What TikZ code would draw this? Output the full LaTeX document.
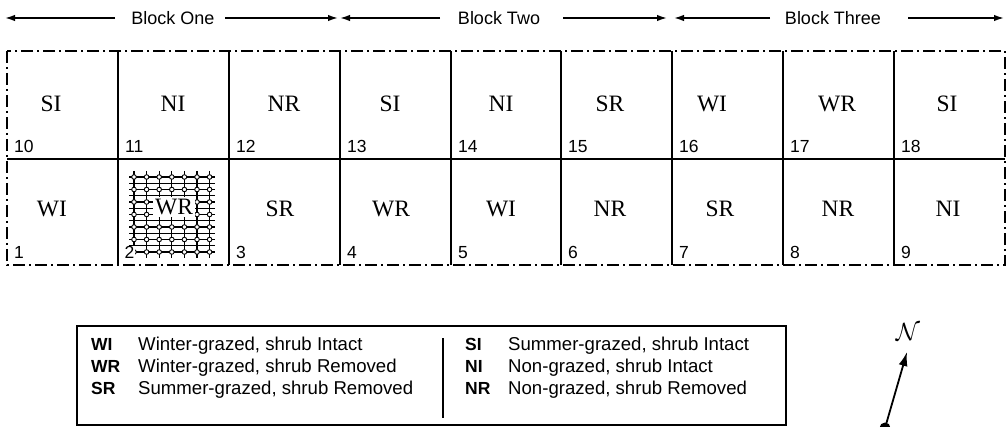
\documentclass[tikz,border=0pt]{standalone}
\usepackage{fontspec}
\setmainfont{Liberation Sans}
\newfontfamily\seriffont{Liberation Serif}
\usetikzlibrary{arrows.meta}

\begin{document}
\begin{tikzpicture}[x=1pt,y=-1pt,
  plotline/.style={line width=1.8pt},
  boundary/.style={line width=1.8pt, dash pattern=on 12pt off 4pt on 2pt off 4pt},
  treat/.style={font=\seriffont\fontsize{23.5}{26}\selectfont, inner sep=0pt},
  plotno/.style={font=\fontsize{17.5}{20}\selectfont, anchor=base west, inner sep=0pt},
  blocklbl/.style={font=\fontsize{18}{21}\selectfont, inner sep=0pt},
  span/.style={line width=1.6pt, -{Latex[length=10pt,width=6.5pt]}},
  hatchline/.style={line width=1.1pt},
  abbr/.style={font=\bfseries\fontsize{17.5}{20}\selectfont, anchor=base west, inner sep=0pt},
  desc/.style={font=\fontsize{18.6}{21}\selectfont, anchor=base west, inner sep=0pt},
]
\useasboundingbox (0,0) rectangle (1008,427);

% --- block headings with span arrows ---
\node[blocklbl] (b1) at (173,18) {Block One};
\node[blocklbl] (b2) at (499,18) {Block Two};
\node[blocklbl] (b3) at (833,18) {Block Three};
\coordinate (b1a) at (115,18); \coordinate (b1l) at (5,18);
\coordinate (b1b) at (225,18); \coordinate (b1r) at (338,18);
\coordinate (b2a) at (440,18); \coordinate (b2l) at (340,18);
\coordinate (b2b) at (563,18); \coordinate (b2r) at (667,18);
\coordinate (b3a) at (770,18); \coordinate (b3l) at (674,18);
\coordinate (b3b) at (908,18); \coordinate (b3r) at (1004,18);
\foreach \s/\e in {b1a/b1l,b1b/b1r,b2a/b2l,b2b/b2r,b3a/b3l,b3b/b3r}
  \draw[span] (\s) -- (\e);

% --- hatching of plot 2 ---
\foreach \i in {0,...,6}
  \draw[hatchline] ({134+12.6*\i},171) -- ({134+12.6*\i},258);
\foreach \j in {0,...,12}
  \draw[hatchline] (129,{177+6.25*\j}) -- (215,{177+6.25*\j});
\foreach \i in {0,...,6}
  \foreach \j in {0,...,6}
    \draw[line width=0.9pt, fill=white] ({134+12.6*\i},{177+12.5*\j}) circle (2.3pt);

% --- plot layout ---
\foreach \x in {118,229,340,451,561,672,783,894}
  \draw[plotline] (\x,51) -- (\x,265);
\draw[plotline] (7,159) -- (1005,159);
\draw[boundary] (7,51) rectangle (1005,265);

% --- treatments ---
\foreach \n/\x/\t in {10/51/SI,11/173/NI,12/284/NR,13/390/SI,14/501/NI,15/610/SR,16/712/WI,17/837/WR,18/947/SI}
  \node[treat] (t\n) at (\x,104) {\t};
\foreach \n/\x/\t in {1/52/WI,3/280/SR,4/391/WR,5/501/WI,6/610/NR,7/720/SR,8/838/NR,9/948/NI}
  \node[treat] (t\n) at (\x,209) {\t};
\node[treat, fill=white, inner sep=2pt] (t2) at (174,207) {WR};

% --- plot numbers ---
\foreach \n/\x in {10/7,11/118,12/229,13/340,14/451,15/561,16/672,17/783,18/894}
  \node[plotno] (n\n) at (\x+7,153) {\n};
\foreach \n/\x in {1/7,3/229,4/340,5/451,6/561,7/672,8/783,9/894}
  \node[plotno] (n\n) at (\x+7,259) {\n};
\node[plotno, fill=white, inner sep=0.5pt] (n2) at (124,259) {2};

% --- legend ---
\node[draw, line width=1.6pt, anchor=north west, inner sep=0pt,
      minimum width=709pt, minimum height=99pt] (legend) at (76,325) {};
\coordinate (ltop) at (443,338); \coordinate (lbot) at (443,418);
\draw[line width=1.1pt] (ltop) -- (lbot);
\foreach \y/\a/\d in {350/WI/{Winter-grazed, shrub Intact},372/WR/{Winter-grazed, shrub Removed},394/SR/{Summer-grazed, shrub Removed}}{
  \node[abbr] (la\a) at (91,\y) {\a};
  \node[desc] (ld\a) at (138,\y) {\d};
}
\foreach \y/\a/\d in {350/SI/{Summer-grazed, shrub Intact},372/NI/{Non-grazed, shrub Intact},394/NR/{Non-grazed, shrub Removed}}{
  \node[abbr] (la\a) at (465,\y) {\a};
  \node[desc] (ld\a) at (508,\y) {\d};
}

% --- north arrow ---
\node[font=\fontsize{26}{30}\selectfont, inner sep=0pt] (north) at (908,332) {$\mathcal{N}$};
\coordinate (ctail) at (885,428);
\coordinate (chead) at (907,352);
\draw[line width=1.8pt, -{Latex[length=14pt,width=9pt]}] (ctail) -- (chead);
\fill (ctail) circle (5.5pt);
\end{tikzpicture}
\end{document}
